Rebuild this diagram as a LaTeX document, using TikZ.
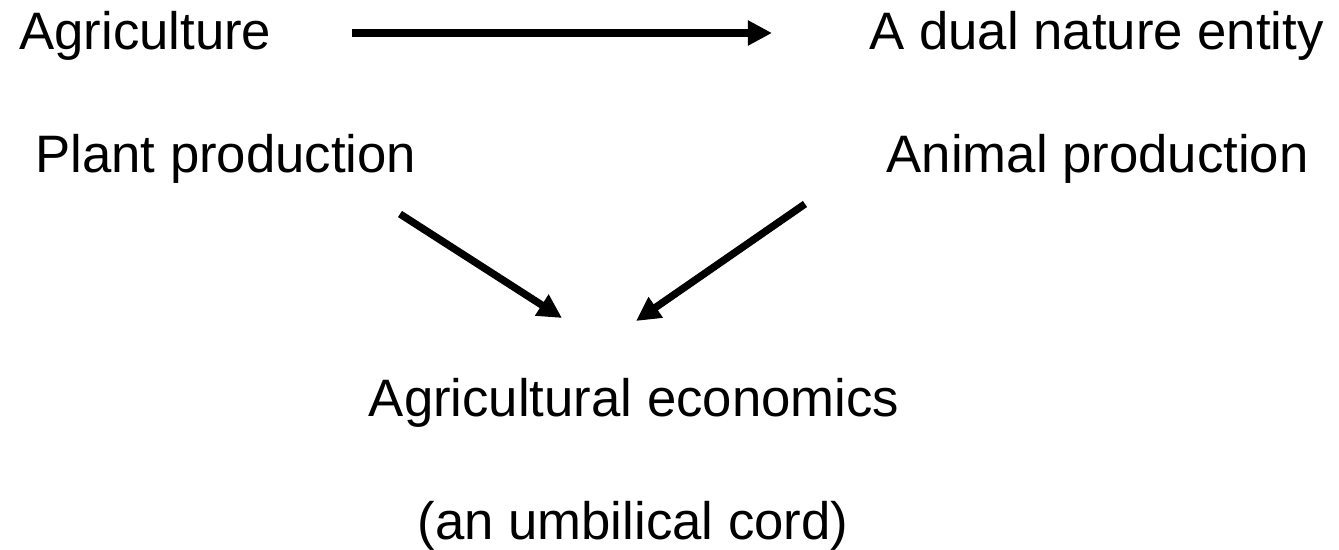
\documentclass[tikz,border=0pt]{standalone}
\usepackage{fontspec}
\setmainfont{Liberation Sans}
\usepackage{tikz}
\usetikzlibrary{positioning, arrows.meta, calc}

\begin{document}
\begin{tikzpicture}[
    x=0.02cm, y=-0.02cm,
    every node/.style={inner sep=0pt, font=\fontsize{30}{36}\selectfont},
    link/.style={line width=4.2pt, -{Triangle[length=13.7pt, width=13.5pt]}}
]
    \useasboundingbox (0,0) rectangle (1339,550);

    % Top row: the subject and what it is
    \node[anchor=base west] (agri) at (19,50) {Agriculture};
    \node[anchor=base east] (dual) at (1324,50) {A dual nature entity};

    % Its two branches
    \node[anchor=base west] (plant) at (35,173) {Plant production};
    \node[anchor=base east] (animal) at (1309,173) {Animal production};

    % Where the branches meet
    \node[anchor=base] (econ) at (634,417) {Agricultural economics};
    \node[anchor=base] (cord) at (633,539) {(an umbilical cord)};

    % Arrow ends (free, between the texts)
    \coordinate (agriout) at (352,33);
    \coordinate (dualin) at (772,33);
    \coordinate (plantout) at (400,214);
    \coordinate (animalout) at (805,204);
    \coordinate (econinl) at (562,318);
    \coordinate (econinr) at (636,321);

    \draw[link] (agriout) -- (dualin);
    \draw[link] (plantout) -- (econinl);
    \draw[link] (animalout) -- (econinr);
\end{tikzpicture}
\end{document}
